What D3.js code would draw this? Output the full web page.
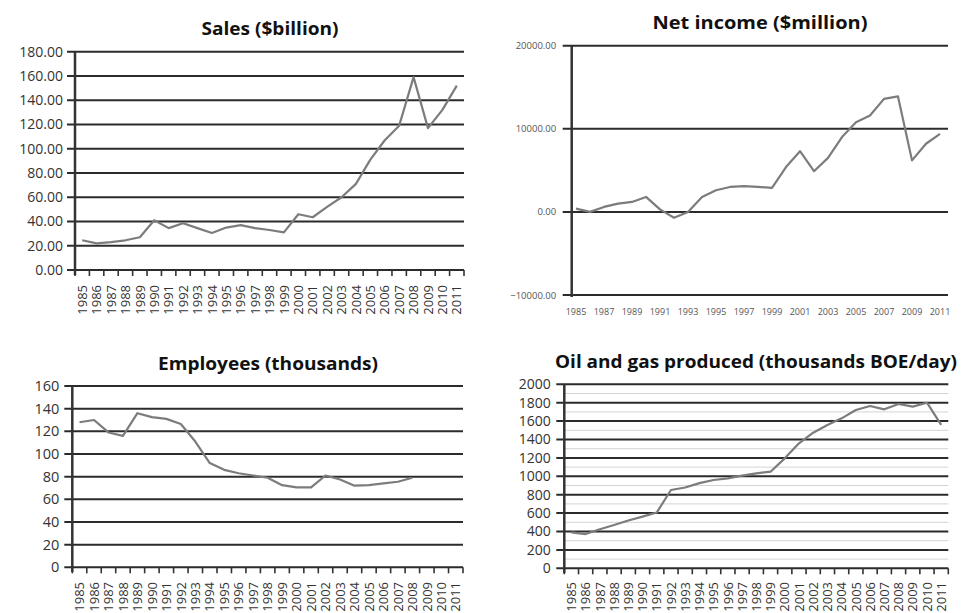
<!DOCTYPE html>
<html>
<head>
<meta charset="utf-8">
<script src="https://cdn.jsdelivr.net/npm/d3@7"></script>
<style>
  html, body { margin: 0; padding: 0; background: #fff; }
  svg { display: block; font-family: "Open Sans", "Noto Sans", sans-serif; }
</style>
</head>
<body>
<svg id="chart" width="961" height="613"></svg>
<script>
// Company performance 1985–2011, four small line charts.
const years = [1985, 1986, 1987, 1988, 1989, 1990, 1991, 1992, 1993, 1994, 1995, 1996, 1997, 1998,
               1999, 2000, 2001, 2002, 2003, 2004, 2005, 2006, 2007, 2008, 2009, 2010, 2011];

const salesTitle = "Sales ($billion)";
const salesTicks = [0, 20, 40, 60, 80, 100, 120, 140, 160, 180];
const salesValues = [24.5, 22, 23, 24.5, 27, 41, 34.5, 38.5, 34.5, 30.5, 35, 37, 34.5, 33,
                     31, 46, 43.5, 52, 60, 71, 91, 107, 119, 159, 117, 132, 152];

const incomeTitle = "Net income ($million)";
const incomeTicks = [-10000, 0, 10000, 20000];
const incomeTickLabels = ["\u221210000.00", "0.00", "10000.00", "20000.00"];
const incomeYearLabels = [1985, 1987, 1989, 1991, 1993, 1995, 1997, 1999, 2001, 2003, 2005, 2007, 2009, 2011];
const incomeValues = [400, 0, 600, 1000, 1200, 1800, 300, -700, 0, 1800, 2600, 3000, 3100, 3000,
                      2900, 5400, 7300, 4900, 6500, 9000, 10800, 11600, 13600, 13900, 6200, 8200, 9400];

const employeesTitle = "Employees (thousands)";
const employeesTicks = [0, 20, 40, 60, 80, 100, 120, 140, 160];
const employeesValues = [128, 130, 119, 116, 136, 132.5, 131, 126.5, 111, 92, 86, 83, 81, 79,
                         72.5, 70.5, 70.5, 81, 77.5, 72, 72.5, 74, 75.5, 79, null, null, null];

const oilTitle = "Oil and gas produced (thousands BOE/day)";
const oilTicks = [0, 200, 400, 600, 800, 1000, 1200, 1400, 1600, 1800, 2000];
const oilMinorTicks = [100, 300, 500, 700, 900, 1100, 1300, 1500, 1700, 1900];
const oilValues = [390, 372, 425, 470, 520, 562, 606, 851, 878, 926, 960, 978, 1007, 1032,
                   1050, 1195, 1359, 1474, 1558, 1630, 1721, 1764, 1728, 1786, 1757, 1800, 1558];

const svg = d3.select("#chart");
const GRID = "#2b2b2b", AXIS = "#333", LINE = "#7c7c7c", TEXT = "#333";

function drawPanel(cfg) {
  const g = svg.append("g");
  const y = d3.scaleLinear().domain(cfg.domain).range([cfg.bottom, cfg.top]);
  let xc;
  let band = null;
  if (cfg.xMode === "band") {
    band = d3.scaleBand().domain(cfg.years).range([cfg.axisX, cfg.right]).padding(0);
    xc = d => band(d) + band.bandwidth() / 2;
  } else {
    const p = d3.scalePoint().domain(cfg.years).range(cfg.pointRange);
    xc = d => p(d);
  }

  // title
  g.append("text")
    .attr("x", cfg.titleX).attr("y", cfg.titleY)
    .attr("text-anchor", "middle")
    .attr("font-weight", 700).attr("font-size", cfg.titleSize)
    .attr("textLength", cfg.titleWidth).attr("lengthAdjust", "spacingAndGlyphs")
    .attr("fill", "#111")
    .text(cfg.title);

  // light minor rules
  if (cfg.minor) {
    g.append("g").selectAll("line").data(cfg.minor).join("line")
      .attr("x1", cfg.axisX).attr("x2", cfg.right)
      .attr("y1", d => y(d)).attr("y2", d => y(d))
      .attr("stroke", "#d4d4d4").attr("stroke-width", 1);
  }

  // horizontal gridlines
  g.append("g").selectAll("line").data(cfg.ticks).join("line")
    .attr("x1", cfg.axisX - cfg.tickLen).attr("x2", cfg.right)
    .attr("y1", d => y(d)).attr("y2", d => y(d))
    .attr("stroke", GRID).attr("stroke-width", 2);

  // y axis labels through d3.axisLeft
  const ax = d3.axisLeft(y).tickValues(cfg.ticks).tickSize(cfg.tickLen).tickPadding(cfg.tickPad)
    .tickFormat((d, i) => cfg.tickLabels ? cfg.tickLabels[i] : d3.format(cfg.fmt)(d));
  const ag = g.append("g").attr("transform", `translate(${cfg.axisX},0)`).call(ax);
  ag.select(".domain").remove();
  ag.selectAll(".tick line").remove();
  ag.selectAll("text")
    .attr("font-size", cfg.labelSize).attr("fill", cfg.labelColor || TEXT)
    .attr("font-family", "'Open Sans', sans-serif");

  // vertical axis line
  g.append("line")
    .attr("x1", cfg.axisX).attr("x2", cfg.axisX)
    .attr("y1", cfg.top).attr("y2", cfg.axisBottom)
    .attr("stroke", AXIS).attr("stroke-width", 2.5);

  // category ticks and labels
  if (cfg.xMode === "band") {
    const edges = cfg.years.map(d => band(d)).concat([cfg.right]);
    g.append("g").selectAll("line").data(edges).join("line")
      .attr("x1", d => d).attr("x2", d => d)
      .attr("y1", cfg.bottom).attr("y2", cfg.bottom + 6)
      .attr("stroke", AXIS).attr("stroke-width", 1.6);
    g.append("g").selectAll("text").data(cfg.years).join("text")
      .attr("transform", d => `translate(${xc(d)},${cfg.xLabelTop}) rotate(-90)`)
      .attr("text-anchor", "end").attr("dy", "0.36em")
      .attr("font-size", 13).attr("fill", TEXT)
      .text(d => d);
  } else {
    g.append("g").selectAll("text").data(cfg.yearLabels).join("text")
      .attr("x", d => xc(d)).attr("y", cfg.xLabelTop)
      .attr("text-anchor", "middle")
      .attr("font-size", 9).attr("fill", "#555")
      .text(d => d);
  }

  // data line
  const pts = cfg.years.map((yr, i) => ({ yr, v: cfg.values[i] }));
  const line = d3.line()
    .defined(d => d.v !== null)
    .x(d => xc(d.yr)).y(d => y(d.v));
  g.append("path").datum(pts)
    .attr("d", line)
    .attr("fill", "none").attr("stroke", LINE).attr("stroke-width", 2.2)
    .attr("stroke-linejoin", "round");
}

drawPanel({
  title: salesTitle, titleX: 270, titleY: 35, titleSize: 17.5, titleWidth: 137,
  years, values: salesValues, ticks: salesTicks, fmt: ".2f",
  domain: [0, 180], axisX: 75, right: 464, top: 51.7, bottom: 270, axisBottom: 275,
  tickLen: 8, tickPad: 4, labelSize: 14, xMode: "band", xLabelTop: 285
});

drawPanel({
  title: incomeTitle, titleX: 760, titleY: 28.5, titleSize: 17.5, titleWidth: 215,
  years, values: incomeValues, ticks: incomeTicks, tickLabels: incomeTickLabels,
  domain: [-10000, 20000], axisX: 571.7, right: 948, top: 45.7, bottom: 295, axisBottom: 297,
  tickLen: 9, tickPad: 6.5, labelSize: 9.5, labelColor: "#555",
  xMode: "point", pointRange: [576, 940], yearLabels: incomeYearLabels, xLabelTop: 315
});

drawPanel({
  title: employeesTitle, titleX: 268, titleY: 369.5, titleSize: 17.5, titleWidth: 220,
  years, values: employeesValues, ticks: employeesTicks, fmt: "d",
  domain: [0, 160], axisX: 72.3, right: 463, top: 386, bottom: 567.3, axisBottom: 572,
  tickLen: 8, tickPad: 5, labelSize: 14.5, xMode: "band", xLabelTop: 582
});

drawPanel({
  title: oilTitle, titleX: 756, titleY: 367.5, titleSize: 17.5, titleWidth: 402,
  years, values: oilValues, ticks: oilTicks, minor: oilMinorTicks, fmt: "d",
  domain: [0, 2000], axisX: 564.3, right: 948.3, top: 384.3, bottom: 568.3, axisBottom: 573,
  tickLen: 8, tickPad: 5.5, labelSize: 14, xMode: "band", xLabelTop: 582
});
</script>
</body>
</html>
